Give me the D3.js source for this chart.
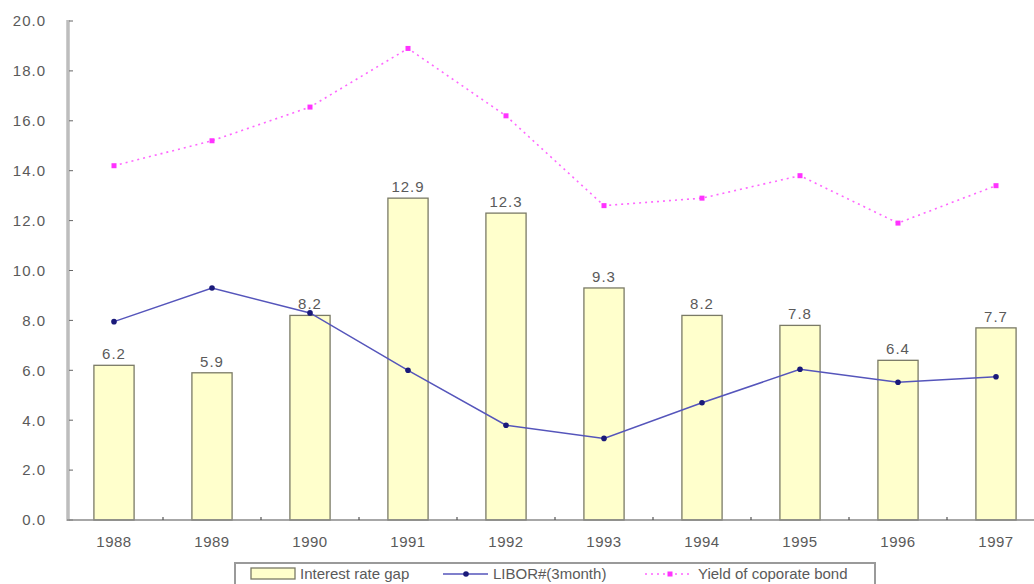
<!DOCTYPE html>
<html>
<head>
<meta charset="utf-8">
<script src="https://cdn.jsdelivr.net/npm/d3@7"></script>
<style>
  html, body { margin: 0; padding: 0; background: #fff; }
  svg { display: block; }
  text { font-family: "Liberation Sans", Arial, sans-serif; fill: #5a5a5a; }
</style>
</head>
<body>
<svg id="chart" width="1034" height="584"></svg>
<script>
const years = ["1988","1989","1990","1991","1992","1993","1994","1995","1996","1997"];
const gapValues = [6.2, 5.9, 8.2, 12.9, 12.3, 9.3, 8.2, 7.8, 6.4, 7.7];
const liborValues = [7.95, 9.3, 8.3, 6.0, 3.8, 3.27, 4.7, 6.04, 5.52, 5.74];
const bondValues = [14.2, 15.2, 16.55, 18.9, 16.2, 12.6, 12.9, 13.8, 11.9, 13.4];
const yTicks = [0, 2, 4, 6, 8, 10, 12, 14, 16, 18, 20];
const seriesNames = ["Interest rate gap", "LIBOR#(3month)", "Yield of coporate bond"];

const svg = d3.select("#chart");
const x = d3.scaleBand().domain(years).range([65, 1045]).paddingInner(0.59).paddingOuter(0.295);
const y = d3.scaleLinear().domain([0, 20]).range([520, 21]);
const step = x.step();
const cx = d => x(d) + x.bandwidth() / 2;

// bars
svg.append("g").selectAll("rect").data(years).join("rect")
  .attr("x", d => x(d))
  .attr("y", (d, i) => y(gapValues[i]))
  .attr("width", x.bandwidth())
  .attr("height", (d, i) => y(0) - y(gapValues[i]))
  .attr("fill", "#ffffcc")
  .attr("stroke", "#7a7a66")
  .attr("stroke-width", 1.3);

// bar labels
svg.append("g").selectAll("text").data(years).join("text")
  .attr("x", d => cx(d))
  .attr("y", (d, i) => y(gapValues[i]) - 6)
  .attr("text-anchor", "middle")
  .attr("font-size", 15)
  .attr("letter-spacing", 1)
  .text((d, i) => d3.format(".1f")(gapValues[i]));

// y axis
const yAxis = d3.axisLeft(y).tickValues(yTicks).tickFormat(d3.format(".1f")).tickSize(0).tickPadding(0);
const gy = svg.append("g").attr("transform", "translate(68,0)").call(yAxis);
gy.select(".domain").remove();
gy.selectAll("text").attr("x", -22).attr("font-size", 15).attr("letter-spacing", 1)
  .style("font-family", "Liberation Sans, Arial, sans-serif").attr("fill", "#5a5a5a");
svg.append("line").attr("x1", 68).attr("x2", 68).attr("y1", 20).attr("y2", 521)
  .attr("stroke", "#bdbdbd").attr("stroke-width", 3.5);
svg.append("g").selectAll("line").data(yTicks).join("line")
  .attr("x1", 69).attr("x2", 73).attr("y1", d => y(d)).attr("y2", d => y(d))
  .attr("stroke", "#666").attr("stroke-width", 1);

// x axis
const xAxis = d3.axisBottom(x).tickSize(0).tickPadding(0);
const gx = svg.append("g").attr("transform", "translate(0,520)").call(xAxis);
gx.select(".domain").remove();
gx.selectAll("text").attr("y", 22).attr("dy", "0.32em").attr("font-size", 15).attr("letter-spacing", 0.5)
  .style("font-family", "Liberation Sans, Arial, sans-serif").attr("fill", "#5a5a5a");
svg.append("line").attr("x1", 67).attr("x2", 1034).attr("y1", 520).attr("y2", 520)
  .attr("stroke", "#8a8a8a").attr("stroke-width", 1.5);
svg.append("g").selectAll("line").data(years.slice(1)).join("line")
  .attr("x1", d => x(d) - step * 0.295).attr("x2", d => x(d) - step * 0.295)
  .attr("y1", 520).attr("y2", 517)
  .attr("stroke", "#555").attr("stroke-width", 1.2);

// bond line
const bondLine = d3.line().x((d, i) => cx(years[i])).y(d => y(d));
svg.append("path").datum(bondValues).attr("d", bondLine)
  .attr("fill", "none").attr("stroke", "#ff66ff").attr("stroke-width", 1.6)
  .attr("stroke-dasharray", "2,4");
svg.append("g").selectAll("rect").data(bondValues).join("rect")
  .attr("x", (d, i) => cx(years[i]) - 2.5).attr("y", d => y(d) - 2.5)
  .attr("width", 5).attr("height", 5).attr("fill", "#ff33ff");

// libor line
const liborLine = d3.line().x((d, i) => cx(years[i])).y(d => y(d));
svg.append("path").datum(liborValues).attr("d", liborLine)
  .attr("fill", "none").attr("stroke", "#5555bb").attr("stroke-width", 1.5);
svg.append("g").selectAll("circle").data(liborValues).join("circle")
  .attr("cx", (d, i) => cx(years[i])).attr("cy", d => y(d))
  .attr("r", 2.8).attr("fill", "#1a1a7a");

// legend
const lg = svg.append("g");
lg.append("rect").attr("x", 235).attr("y", 563).attr("width", 640).attr("height", 40)
  .attr("fill", "#fff").attr("stroke", "#9a9a9a").attr("stroke-width", 2);
lg.append("rect").attr("x", 251).attr("y", 568).attr("width", 44).attr("height", 11)
  .attr("fill", "#ffffcc").attr("stroke", "#7a7a66").attr("stroke-width", 1.3);
lg.append("text").attr("x", 300).attr("y", 574).attr("dy", "0.35em").attr("font-size", 15).text(seriesNames[0]);
lg.append("line").attr("x1", 443).attr("x2", 488).attr("y1", 574).attr("y2", 574)
  .attr("stroke", "#5555bb").attr("stroke-width", 1.5);
lg.append("circle").attr("cx", 466).attr("cy", 574).attr("r", 2.8).attr("fill", "#1a1a7a");
lg.append("text").attr("x", 493).attr("y", 574).attr("dy", "0.35em").attr("font-size", 15).text(seriesNames[1]);
lg.append("line").attr("x1", 645).attr("x2", 693).attr("y1", 574).attr("y2", 574)
  .attr("stroke", "#ff66ff").attr("stroke-width", 1.6).attr("stroke-dasharray", "2,4");
lg.append("rect").attr("x", 667.5).attr("y", 571.5).attr("width", 5).attr("height", 5).attr("fill", "#ff33ff");
lg.append("text").attr("x", 698).attr("y", 574).attr("dy", "0.35em").attr("font-size", 15).text(seriesNames[2]);
</script>
</body>
</html>
